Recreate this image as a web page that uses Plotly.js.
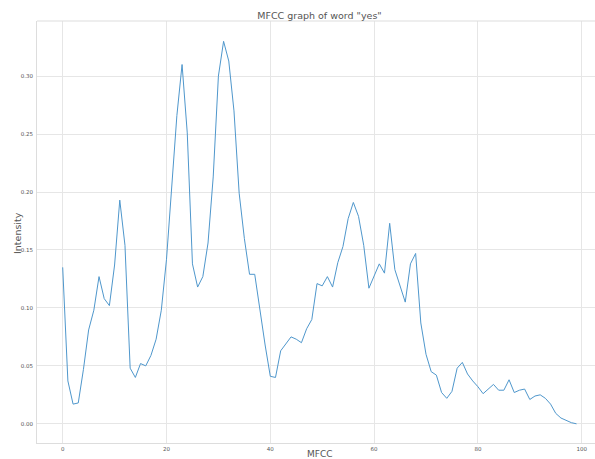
<!DOCTYPE html>
<html>
<head>
<meta charset="utf-8">
<script src="https://cdn.plot.ly/plotly-3.0.1.min.js"></script>
<style>
  html, body { margin: 0; padding: 0; overflow: hidden; background: #fff; }
  #chart { width: 595px; height: 459px; }
</style>
</head>
<body>
<div id="chart"></div>
<script>
// MFCC coefficient index (0..99) and the intensity of each coefficient
const mfccIndex = [
  0, 1, 2, 3, 4, 5, 6, 7, 8, 9,
  10, 11, 12, 13, 14, 15, 16, 17, 18, 19,
  20, 21, 22, 23, 24, 25, 26, 27, 28, 29,
  30, 31, 32, 33, 34, 35, 36, 37, 38, 39,
  40, 41, 42, 43, 44, 45, 46, 47, 48, 49,
  50, 51, 52, 53, 54, 55, 56, 57, 58, 59,
  60, 61, 62, 63, 64, 65, 66, 67, 68, 69,
  70, 71, 72, 73, 74, 75, 76, 77, 78, 79,
  80, 81, 82, 83, 84, 85, 86, 87, 88, 89,
  90, 91, 92, 93, 94, 95, 96, 97, 98, 99
];

const intensity = [
  0.135, 0.037, 0.017, 0.018, 0.047, 0.081, 0.098, 0.127, 0.108, 0.102,
  0.137, 0.193, 0.154, 0.048, 0.040, 0.052, 0.050, 0.059, 0.073, 0.098,
  0.142, 0.200, 0.266, 0.310, 0.251, 0.138, 0.118, 0.127, 0.156, 0.213,
  0.300, 0.330, 0.313, 0.270, 0.199, 0.160, 0.129, 0.129, 0.097, 0.068,
  0.041, 0.040, 0.063, 0.069, 0.075, 0.073, 0.070, 0.082, 0.090, 0.121,
  0.119, 0.127, 0.118, 0.139, 0.153, 0.177, 0.191, 0.179, 0.154, 0.117,
  0.128, 0.138, 0.130, 0.173, 0.133, 0.119, 0.105, 0.138, 0.147, 0.087,
  0.060, 0.045, 0.042, 0.027, 0.022, 0.028, 0.048, 0.053, 0.043, 0.037,
  0.032, 0.026, 0.030, 0.034, 0.029, 0.029, 0.038, 0.027, 0.029, 0.030,
  0.021, 0.024, 0.025, 0.022, 0.017, 0.009, 0.005, 0.003, 0.001, 0.000
];

const xTicks = [0, 20, 40, 60, 80, 100];
const yTicks = [0.00, 0.05, 0.10, 0.15, 0.20, 0.25, 0.30];

const font = 'DejaVu Sans, sans-serif';
const gridColor = '#e6e6e6';
const spineColor = '#dddddd';
const textColor = '#555555';
const W = 595, H = 459;
const M = { l: 37, r: 0, t: 21, b: 16 };

const trace = {
  x: mfccIndex,
  y: intensity,
  type: 'scatter',
  mode: 'lines',
  line: { color: '#4f97cc', width: 1 },
  hoverinfo: 'x+y'
};

// Helpers to place text in pixel positions relative to the plot area
const plotW = W - M.l - M.r, plotH = H - M.t - M.b;
const px = x => (x - M.l) / plotW;
const py = y => (H - M.b - y) / plotH;

const layout = {
  width: W,
  height: H,
  margin: { l: M.l, r: M.r, t: M.t, b: M.b, pad: 0 },
  paper_bgcolor: '#ffffff',
  plot_bgcolor: '#ffffff',
  showlegend: false,
  title: {
    text: 'MFCC graph of word "yes"',
    font: { family: font, size: 9.5, color: textColor },
    x: 319.5 / W, xanchor: 'center',
    y: 1 - 16 / H, yanchor: 'middle',
    yref: 'container'
  },
  xaxis: {
    range: [-4.95, 102.56],
    tickmode: 'array',
    tickvals: xTicks,
    ticktext: xTicks.map(String),
    ticks: '',
    tickfont: { family: font, size: 5.5, color: textColor },
    showgrid: true,
    gridcolor: gridColor,
    gridwidth: 1,
    zeroline: false,
    showline: true,
    linecolor: spineColor,
    linewidth: 1,
    mirror: false,
    ticklabelstandoff: 0
  },
  yaxis: {
    range: [-0.01655, 0.34755],
    tickmode: 'array',
    tickvals: yTicks,
    ticktext: yTicks.map(v => v.toFixed(2)),
    ticks: '',
    tickfont: { family: font, size: 5.5, color: textColor },
    showgrid: true,
    gridcolor: gridColor,
    gridwidth: 1,
    zeroline: false,
    showline: true,
    linecolor: spineColor,
    linewidth: 1,
    mirror: false,
    ticklabelstandoff: 2
  },
  shapes: [
    // top spine
    { type: 'line', xref: 'paper', yref: 'paper', x0: 0, x1: 1, y0: 1, y1: 1,
      line: { color: spineColor, width: 1 } }
  ],
  annotations: [
    { text: 'MFCC', xref: 'paper', yref: 'paper', x: px(319.5), y: py(454),
      xanchor: 'center', yanchor: 'middle', showarrow: false,
      font: { family: font, size: 9, color: textColor } },
    { text: 'Intensity', xref: 'paper', yref: 'paper', x: px(17), y: py(233),
      xanchor: 'center', yanchor: 'middle', showarrow: false, textangle: -90,
      font: { family: font, size: 9.5, color: textColor } }
  ]
};

Plotly.newPlot('chart', [trace], layout, { displayModeBar: false, staticPlot: true });
</script>
</body>
</html>
